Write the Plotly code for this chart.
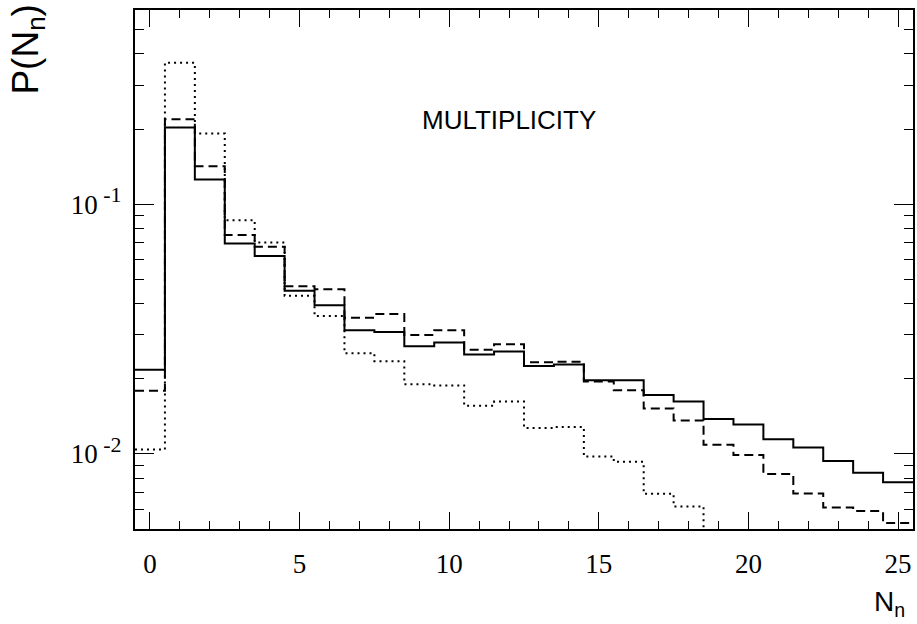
import plotly.graph_objects as go

# Multiplicity N_n (bin centres)
n_bins = list(range(26))

# Probabilities (log scale)
p_solid = [0.0217, 0.203, 0.1256, 0.0696, 0.062, 0.045, 0.0394, 0.0313, 0.0308,
           0.0270, 0.0279, 0.0250, 0.0257, 0.0225, 0.0228, 0.0197, 0.0197, 0.0172,
           0.0162, 0.0138, 0.0131, 0.01145, 0.0106, 0.00937, 0.0084, 0.0077]
p_dashed = [0.0179, 0.219, 0.142, 0.0752, 0.0675, 0.0469, 0.0456, 0.0351, 0.0363,
            0.0299, 0.0313, 0.0261, 0.0275, 0.0233, 0.0234, 0.0195, 0.0180, 0.0152,
            0.0136, 0.01087, 0.0099, 0.0083, 0.00694, 0.0061, 0.0059, 0.00528]
p_dotted = [0.0104, 0.369, 0.192, 0.0863, 0.0703, 0.0430, 0.0357, 0.0253, 0.0235,
            0.0190, 0.0188, 0.0156, 0.0162, 0.0127, 0.0128, 0.00976, 0.00929, 0.00692,
            0.00616, 0.0045, None, None, None, None, None, None]

x_tick_vals = [0, 5, 10, 15, 20, 25]
y_tick_vals = [0.01, 0.1]
y_tick_text = ["10<sup><span style='font-size:22px'>\u00a0-2</span></sup>",
               "10<sup><span style='font-size:22px'>\u00a0-1</span></sup>"]
y_minor_vals = [0.005, 0.006, 0.007, 0.008, 0.009,
                0.02, 0.03, 0.04, 0.05, 0.06, 0.07, 0.08, 0.09,
                0.2, 0.3, 0.4, 0.5, 0.6]


def step_xy(vals):
    edges = [n - 0.5 for n in n_bins] + [n_bins[-1] + 0.5]
    return edges, list(vals) + [vals[-1]]


fig = go.Figure()
for vals, dash in [(p_dotted, "2px,4px"), (p_dashed, "9px,5px"), (p_solid, "solid")]:
    xs, ys = step_xy(vals)
    fig.add_trace(go.Scatter(x=xs, y=ys, mode="lines", line_shape="hv",
                             line=dict(color="black", width=2, dash=dash),
                             showlegend=False, hoverinfo="skip"))

tick_font = dict(family="Liberation Serif", size=27, color="black")

fig.update_xaxes(range=[-0.5, 25.5], tickmode="array", tickvals=x_tick_vals,
                 ticks="inside", ticklen=17, tickwidth=1, tickcolor="black",
                 showline=True, linewidth=2, linecolor="black", mirror="ticks",
                 showgrid=False, zeroline=False, tickfont=tick_font,
                 ticklabelstandoff=10,
                 minor=dict(tickmode="linear", tick0=0, dtick=1, ticks="inside",
                            ticklen=8, tickwidth=1, tickcolor="black", showgrid=False))
fig.update_yaxes(type="log", range=[-2.301, -0.222], tickmode="array",
                 tickvals=y_tick_vals, ticktext=y_tick_text,
                 ticks="inside", ticklen=19, tickwidth=1, tickcolor="black",
                 showline=True, linewidth=2, linecolor="black", mirror="ticks",
                 showgrid=False, zeroline=False, tickfont=tick_font,
                 ticklabelstandoff=6,
                 minor=dict(tickmode="array", tickvals=y_minor_vals, ticks="inside",
                            ticklen=9, tickwidth=1, tickcolor="black", showgrid=False))

fig.add_annotation(text="MULTIPLICITY", xref="paper", yref="paper", x=0.481, y=0.788,
                   xanchor="center", yanchor="middle", showarrow=False,
                   font=dict(family="Liberation Sans", size=26, color="black"))
fig.add_annotation(text="P(N<sub>n</sub>)", xref="paper", yref="paper", x=-0.138, y=0.923,
                   xanchor="center", yanchor="middle", textangle=-90, showarrow=False,
                   font=dict(family="Liberation Sans", size=37, color="black"))
fig.add_annotation(text="N<sub>n</sub>", xref="paper", yref="paper", x=0.970, y=-0.1426,
                   xanchor="center", yanchor="middle", showarrow=False,
                   font=dict(family="Liberation Sans", size=28, color="black"))

fig.update_layout(width=917, height=624, margin=dict(l=135, r=2, t=10, b=95),
                  plot_bgcolor="white", paper_bgcolor="white")

fig.write_html("out.html", config={"displayModeBar": False},
               post_script="document.body.style.margin='0';document.body.style.overflow='hidden';")
